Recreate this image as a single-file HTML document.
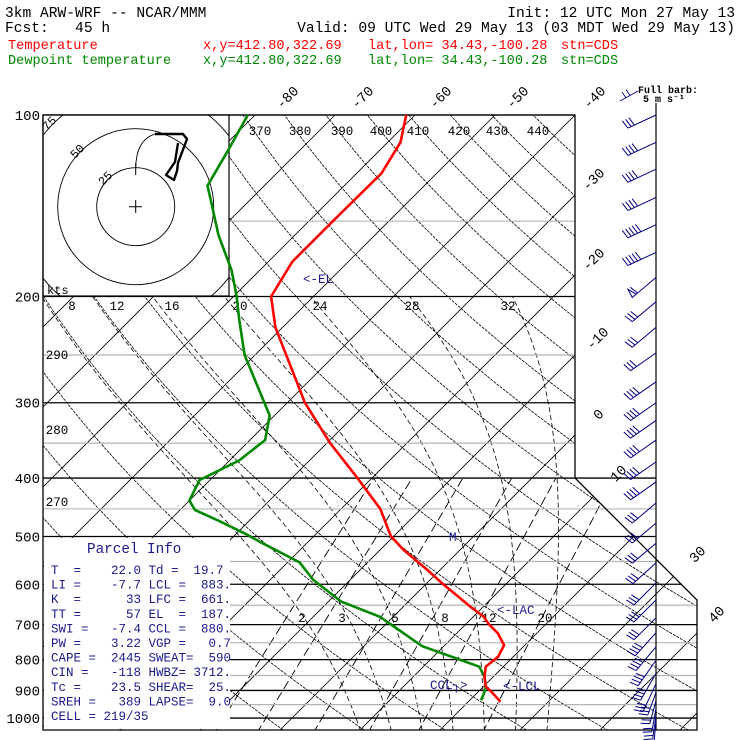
<!DOCTYPE html>
<html><head><meta charset="utf-8"><style>
html,body{margin:0;padding:0;background:#fff;}
svg{display:block;}
text{font-family:"Liberation Mono",monospace;white-space:pre;}
</style></head><body>
<svg id="chart" width="740" height="740" viewBox="0 0 740 740" xmlns="http://www.w3.org/2000/svg">
<defs>
<clipPath id="frameClip"><polygon points="43,115 575,115 575,478 697,600 697,730 43,730"/></clipPath>
<clipPath id="hodoClip"><rect x="43" y="115" width="186" height="181"/></clipPath>
</defs>
<rect width="740" height="740" fill="#fff"/>
<g id="header" font-size="14.6">
<text x="5" y="17">3km ARW-WRF -- NCAR/MMM</text>
<text x="735" y="17" text-anchor="end">Init: 12 UTC Mon 27 May 13</text>
<text x="5" y="32">Fcst:   45 h</text>
<text x="735" y="32" text-anchor="end">Valid: 09 UTC Wed 29 May 13 (03 MDT Wed 29 May 13)</text>
<g fill="#ff0000" font-size="13.6">
<text x="8" y="49">Temperature</text>
<text x="203" y="49">x,y=412.80,322.69</text>
<text x="368" y="49">lat,lon= 34.43,-100.28</text>
<text x="561" y="49">stn=CDS</text>
</g>
<g fill="#008800" font-size="13.6">
<text x="8" y="64">Dewpoint temperature</text>
<text x="203" y="64">x,y=412.80,322.69</text>
<text x="368" y="64">lat,lon= 34.43,-100.28</text>
<text x="561" y="64">stn=CDS</text>
</g>
</g>
<g id="bg" clip-path="url(#frameClip)"></g>
<g id="pressLines"></g>
<g id="overlay"></g>
<g id="pressLabels"></g>
<g id="labels"></g>
<g id="profiles"></g>
<g id="barbs"></g>
</svg>
<script>
// ---- data ----
const tempP = [100,111,125,150,175,200,225,250,300,350,400,450,499,526,568,600,653,679,699,723,757,791,822,854,887,904,939];
const tempT = [-61.1,-58.4,-56.9,-57,-57,-55.3,-50.9,-46.1,-37.8,-29.6,-21.8,-15.1,-10.4,-7.1,-1.6,2.2,8.3,11.3,12.9,15.1,17.4,18.1,17.8,18.9,20.3,21.6,24.0];
const dewP = [100,114,131,138,158,181,200,219,250,275,315,346,374,403,436,452,470,495,511,552,590,641,679,705,760,795,822,854,887,909,934];
const dewT = [-80.9,-79,-77.1,-75,-69.6,-63.5,-59.6,-56.3,-51.3,-46.9,-40.6,-38.1,-38.8,-41.3,-40,-38.1,-34,-28.8,-25.9,-18.5,-14.6,-8.4,-1.7,1.3,7.3,12.9,17,18.9,20.3,20.9,21.4];
const barbP = [100,111,123,137,152,169,186,204,225,248,277,300,321,346,376,406,440,475,513,553,597,637,682,722,762,802,843,877,907,935,963,989,1008];
const barbDir = [245,245,245,245,245,245,230,230,230,235,235,235,235,235,235,235,230,230,230,228,225,225,225,222,220,215,210,205,200,195,190,188,185];
const barbSpd = [15,20,20,20,25,25,30,15,15,15,20,20,20,20,20,20,15,15,15,15,15,15,15,20,20,20,20,15,15,10,10,10,10];
const pressureTicks = [100,200,300,400,500,600,700,800,900,1000];
const grayTicks = [150,250,350,450,550,650,750,850,950];
const isotherms = [-140,-130,-120,-110,-100,-90,-80,-70,-60,-50,-40,-30,-20,-10,0,10,20,30,40,50];
const dryThetas = [250,260,270,280,290,300,310,320,330,340,350,360,370,380,390,400,410,420,430,440,450,460,470];
const moistThetaW = [8,12,16,20,24,28,32];
const mixRatios = [2,3,5,8,12,20];

// ---- axes ----
const NS="http://www.w3.org/2000/svg";
function Y(p){return 115+261.9*Math.log(p/100);}
function X(T,p){return 575+8*(T+40)-(Y(p)-115);}
function el(tag,attrs,parent){const e=document.createElementNS(NS,tag);for(const k in attrs)e.setAttribute(k,attrs[k]);parent.appendChild(e);return e;}
function xRight(y){ if(y<=478) return 575; if(y<=600) return Math.max(575+(y-478),656); return 697; }
const bg=document.getElementById('bg');
const pl=document.getElementById('pressLines');
const plab=document.getElementById('pressLabels');

grayTicks.forEach(p=>{const y=Y(p);
 const l=el('line',{x1:43,y1:y,x2:xRight(y),y2:y,stroke:'#b4b4b4','stroke-width':1.2},pl);
 
 
});
isotherms.forEach(T=>{
 const l=el('line',{x1:X(T,100),y1:Y(100),x2:X(T,1060),y2:Y(1060),stroke:'#000','stroke-width':0.8},bg);
 
 
});
dryThetas.forEach(th=>{
 let d='';for(let p=90;p<=1060;p+=10){const T=th*Math.pow(p/1000,0.2857)-273.15;d+=(d?'L':'M')+X(T,p).toFixed(1)+','+Y(p).toFixed(1);}
 const l=el('path',{d:d,fill:'none',stroke:'#000','stroke-width':0.8,'stroke-dasharray':'3,1'},bg);
 
 
});
function es(Tc){return 6.112*Math.exp(17.67*Tc/(Tc+243.5));}
function moistPath(tw){
 const pts=[];let T=tw+273.15,p=1000;
 const f=(T,p)=>{const e=es(T-273.15);const rs=0.622*e/(p-e);return (287*T+2.5e6*rs)/(p*(1004+2.5e6*2.5e6*rs*0.622/(287*T*T)));};
 let T2=T;for(let q=1000;q<1050;q+=2){T2+=f(T2,q)*2;}
 pts.push([T2-273.15,1050]);
 for(p=1000;p>=200;p-=2){pts.push([T-273.15,p]);T-=f(T,p)*2;}
 pts.sort((a,b)=>b[1]-a[1]);
 return pts.map((q,i)=>(i?'L':'M')+X(q[0],q[1]).toFixed(1)+','+Y(q[1]).toFixed(1)).join('');
}
moistThetaW.forEach(tw=>{
 const l=el('path',{d:moistPath(tw),fill:'none',stroke:'#000','stroke-width':0.8,'stroke-dasharray':'5,3'},bg);
 
 
});
function tdFromW(w,p){const e=w*p/(622+w);const a=Math.log(e/6.112);return 243.5*a/(17.67-a);}
mixRatios.forEach(w=>{
 const l=el('line',{x1:X(tdFromW(w,1060),1060),y1:Y(1060),x2:X(tdFromW(w,400),400),y2:Y(400),stroke:'#000','stroke-width':0.9,'stroke-dasharray':'9,4'},bg);
 
 
});
pressureTicks.forEach(p=>{const y=Y(p);
 const l=el('line',{x1:43,y1:y,x2:xRight(y),y2:y,stroke:'#000','stroke-width':1.3},pl);
 
 
 const t=el('text',{x:40,y:y+5,'text-anchor':'end','font-size':14},plab);
 t.textContent=p;
 
 
});
</script>
<script>
(function(){
const ov=document.getElementById('overlay');
const hod=el('g',{},ov);


el('rect',{x:43,y:115,width:186,height:181,fill:'#fff'},hod);
const hc=el('g',{'clip-path':'url(#hodoClip)'},hod);
[39,78,117].forEach(r=>{const c=el('circle',{cx:135.7,cy:206.7,r:r,fill:'none',stroke:'#000','stroke-width':0.9},hc);
 });
el('rect',{x:43,y:115,width:186,height:181,fill:'none',stroke:'#000','stroke-width':1.2},hod);
el('path',{d:'M129,206.7H142M135.7,200V213M135.7,163V175',stroke:'#000','stroke-width':1},hod);
[['25',108,181],['50',80,154],['75',52,126]].forEach(a=>{const t=el('text',{x:a[1],y:a[2],'font-size':12,'text-anchor':'middle',transform:`rotate(-45 ${a[1]} ${a[2]})`},hod);t.textContent=a[0];
 });
const kt=el('text',{x:47,y:294,'font-size':12},hod);kt.textContent='kts';

el('path',{d:'M135.7,168 C136,150 142,138 155,134',fill:'none',stroke:'#000','stroke-width':0.9},hod);
const tr=el('path',{d:'M155,134 L183,134 L187,139 L178,163 L177,171 L174,180 L166,175 L175,162 L178,143',fill:'none',stroke:'#000','stroke-width':2.4,'stroke-linejoin':'round'},hod);


const pb=el('g',{},ov);


el('rect',{x:44,y:538,width:186,height:191,fill:'#fff'},pb);
const pt=el('text',{x:87,y:553,'font-size':14.3,fill:'#1a1a8c'},pb);pt.textContent='Parcel Info';

const rows=['T  =    22.0 Td =  19.7','LI =    -7.7 LCL =  883.','K  =      33 LFC =  661.','TT =      57 EL  =  187.','SWI =   -7.4 CCL =  880.','PW =    3.22 VGP =   0.7','CAPE =  2445 SWEAT=  590','CIN =   -118 HWBZ= 3712.','Tc =    23.5 SHEAR=  25.','SREH =   389 LAPSE=  9.0','CELL = 219/35'];
rows.forEach((r,i)=>{const t=el('text',{x:51,y:574+i*14.6,'font-size':12.5,fill:'#1a1a8c',style:'white-space:pre'},pb);t.textContent=r;
 });

const fr=el('polygon',{points:'43,115 575,115 575,478 697,600 697,730 43,730',fill:'none',stroke:'#000','stroke-width':1.3},ov);

const st=el('line',{x1:656,y1:103,x2:656,y2:730,stroke:'#000','stroke-width':1.2},ov);


const lb=document.getElementById('labels');
const isoLab=[['-80',287,97],['-70',362,97],['-60',440,97],['-50',517,97],['-40',594,97],['-30',593,179],['-20',593,259],['-10',597,338],['0',598,414],['10',618,473],['30',697,554],['40',716,614]];
isoLab.forEach(a=>{const t=el('text',{x:a[1],y:a[2]+5,'font-size':14,'text-anchor':'middle',transform:`rotate(-45 ${a[1]} ${a[2]})`},lb);t.textContent=a[0];
 });
const thLab=[['370',260],['380',300],['390',342],['400',381],['410',418],['420',459],['430',497],['440',538]];
thLab.forEach(a=>{const t=el('text',{x:a[1],y:135,'font-size':12.5,'text-anchor':'middle'},lb);t.textContent=a[0];
 });
[['290',57,359],['280',57,434],['270',57,506]].forEach(a=>{const t=el('text',{x:a[1],y:a[2],'font-size':12.5,'text-anchor':'middle'},lb);t.textContent=a[0];
 });
[['8',72],['12',117],['16',172],['20',240],['24',320],['28',412],['32',508]].forEach(a=>{const t=el('text',{x:a[1],y:310,'font-size':12.5,'text-anchor':'middle'},lb);t.textContent=a[0];
 });
[['2',302],['3',342],['5',395],['8',445],['12',489],['20',545]].forEach(a=>{const t=el('text',{x:a[1],y:622,'font-size':12.5,'text-anchor':'middle'},lb);t.textContent=a[0];
 });
[['<-EL',303,283],['M',449,541],['<-LAC',497,614],['<-LCL',503,690],['CCL\u2510>',430,689]].forEach(a=>{const t=el('text',{x:a[1],y:a[2],'font-size':12.5,fill:'#1a1a8c'},lb);t.textContent=a[0];
 });
const fb=el('text',{x:638,y:93,'font-size':10,'font-weight':'bold','font-family':'Liberation Serif, serif'},lb);fb.textContent='Full barb:';

const fb2=el('text',{x:643,y:102,'font-size':10,'font-weight':'bold','font-family':'Liberation Serif, serif'},lb);fb2.textContent='5 m s\u207B\u00B9';

el('path',{d:'M638,91 L620,101 M626,98 L622,92 M630,95.5 L626,89.5',stroke:'#000080','stroke-width':0.9,fill:'none'},lb);

const pg=document.getElementById('profiles');
function prof(P,T,col,name){const d=P.map((p,i)=>(i?'L':'M')+X(T[i],p).toFixed(1)+','+Y(p).toFixed(1)).join('');
 const l=el('path',{d:d,fill:'none',stroke:col,'stroke-width':2.6,'stroke-linejoin':'round'},pg);
 }
prof(dewP,dewT,'#008800','dewpoint-profile');
prof(tempP,tempT,'#ff0000','temperature-profile');

const bgp=document.getElementById('barbs');
barbP.forEach((p,i)=>{
 const y=Y(p), x=656, a=barbDir[i]*Math.PI/180;
 const dx=Math.sin(a), dy=-Math.cos(a);
 const L=p>880?24:31;
 const tx=x+dx*L, ty=y+dy*L;
 let d=`M${x},${y}L${tx.toFixed(1)},${ty.toFixed(1)}`;
 const px=-dy, py=dx;
 const nx=-dx, ny=-dy;
 let s=barbSpd[i], pos=0, fl=9;
 let flagPath='';
 while(s>=30){const bx=tx+nx*pos, by=ty+ny*pos;
  flagPath+=`M${bx.toFixed(1)},${by.toFixed(1)}L${(bx+px*fl+nx*2).toFixed(1)},${(by+py*fl+ny*2).toFixed(1)}L${(bx+nx*5).toFixed(1)},${(by+ny*5).toFixed(1)}Z`;
  s-=25; pos+=7;}
 while(s>=5){const bx=tx+nx*pos, by=ty+ny*pos;
  d+=`M${bx.toFixed(1)},${by.toFixed(1)}L${(bx+px*fl-nx*2).toFixed(1)},${(by+py*fl-ny*2).toFixed(1)}`;
  s-=5; pos+=3.6;}
 const b=el('path',{d:d+flagPath,fill:'none',stroke:'#000080','stroke-width':1},bgp);
 
 
});
})();
</script>
</body></html>
